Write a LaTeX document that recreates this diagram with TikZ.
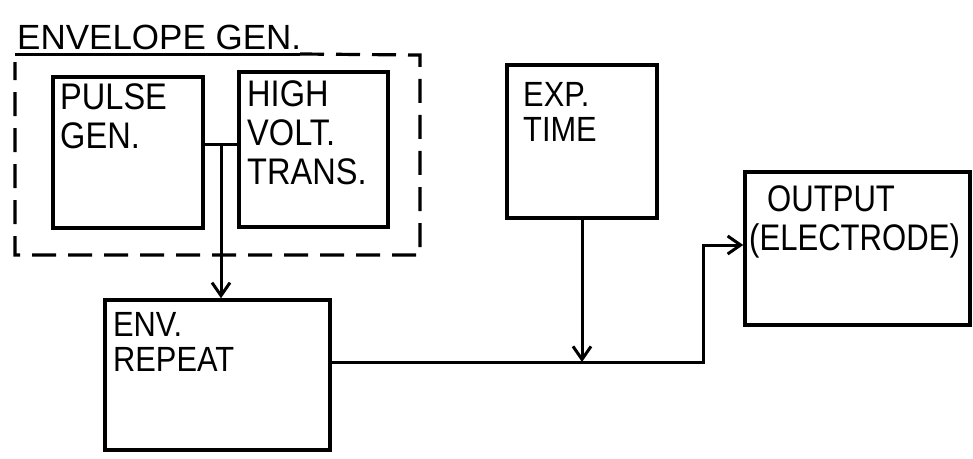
\documentclass[tikz,border=0pt]{standalone}
\usepackage{fontspec}
\setmainfont{Liberation Sans}[FakeStretch=0.88]
\newfontfamily\titlefont{Liberation Sans}
\newfontfamily\narrowfont{Liberation Sans}[FakeStretch=0.84]
\usetikzlibrary{arrows.meta,calc}
\begin{document}
\begin{tikzpicture}[x=1pt,y=-1pt,
  blk/.style={draw,line width=3.5pt,rectangle,inner sep=0pt},
  lbl/.style={anchor=north west,inner sep=0pt,align=left,font=\fontsize{37}{39}\selectfont},
  lblsm/.style={anchor=north west,inner sep=0pt,align=left,font=\fontsize{35}{35}\selectfont},
  wire/.style={line width=3pt},
  arr/.style={wire,-{Straight Barb[length=13pt,width=18pt,line width=3pt]}},
  dashbox/.style={line width=3.2pt,dash pattern=on 24pt off 12pt}]
\useasboundingbox (0,0) rectangle (973,458);
% title
\node[anchor=north west,inner sep=0pt,font=\titlefont\fontsize{35}{35}\selectfont] (title) at (17,25) {ENVELOPE GEN.};
\coordinate (ul) at (15,54);
\coordinate (ur) at (300,54);
\draw[line width=3pt] (ul) -- (ur);
\coordinate (dtr) at (420,55);
\coordinate (dbr) at (420,255);
\coordinate (dbl) at (15,255);
\coordinate (dtl) at (15,62);
\draw[dashbox] (ur) -- (dtr) -- (dbr) -- (dbl) -- (dtl);
% blocks
\node[blk,minimum width=150pt,minimum height=151pt] (pulse) at (128,152.5) {};
\node[blk,minimum width=149pt,minimum height=155pt] (hv) at (313.5,149.5) {};
\node[blk,minimum width=225pt,minimum height=150pt] (env) at (217.5,375) {};
\node[blk,minimum width=150pt,minimum height=153pt] (exp) at (582,141.5) {};
\node[blk,minimum width=225pt,minimum height=153pt] (out) at (857.5,248.5) {};
% labels
\node[lbl] (pulsetxt) at (60,83) {PULSE\\GEN.};
\node[lbl] (hvtxt) at (247,80) {HIGH\\VOLT.\\TRANS.};
\node[lblsm] (envtxt) at (113,312) {ENV.\\REPEAT};
\node[lblsm] (exptxt) at (523,82) {EXP.\\TIME};
\node[lbl,font=\narrowfont\fontsize{37}{39}\selectfont] (outtxt1) at (767,185) {OUTPUT};
\node[lbl,font=\narrowfont\fontsize{37}{39}\selectfont] (outtxt2) at (749,223) {(ELECTRODE)};
% connectors
\coordinate (j) at (221,144);
\draw[wire] (pulse.east |- j) -- (hv.west |- j);
\draw[arr] (j) -- (env.north -| j);
\coordinate (m) at (582,362);
\coordinate (c) at (703,362);
\coordinate (d) at (703,245);
\draw[arr] (exp.south -| m) -- (m);
\draw[arr] (env.east |- m) -- (c) -- (d) -- (out.west |- d);
\end{tikzpicture}
\end{document}
